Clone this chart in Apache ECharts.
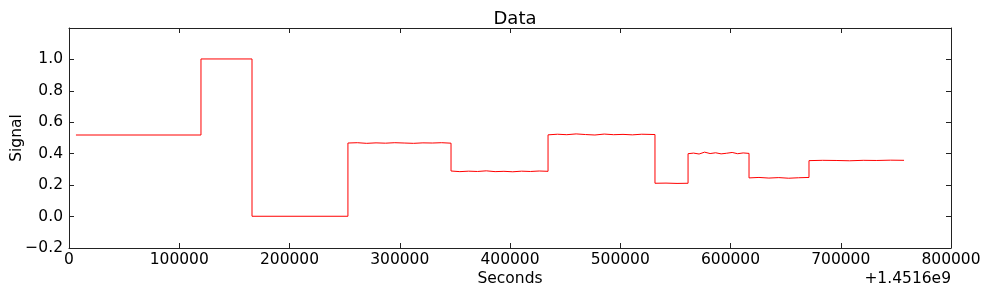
<!DOCTYPE html>
<html lang="en">
<head>
    <meta charset="UTF-8">
    <title>Data</title>
    <script src="https://cdn.jsdelivr.net/npm/echarts@6/dist/echarts.min.js"></script>
    <style>
        html, body { margin: 0; padding: 0; background: #fff; }
    </style>
</head>
<body>
<div id="chart" style="width:986px;height:289px;"></div>
<script type="text/javascript">

    // time offsets (s, relative to 1.4516e9) and signal readings, one row per level
    var seconds = [
        6300, 119700,
        119700, 166000,
        166000, 253000,
        253000, 261500, 270000, 278500, 287000, 295500, 304000, 312500, 321000, 329500, 338000, 346500,
        346500, 354500, 362500, 370500, 378500, 386500, 394500, 402500, 410500, 418500, 426500, 434500,
        434500, 443000, 451500, 460000, 468500, 477000, 485500, 494000, 502500, 511000, 519500, 531500,
        531500, 541500, 551500, 561500,
        561500, 566500, 571500, 576500, 581500, 586500, 591500, 596500, 601500, 606500, 611500, 616800,
        616800, 625800, 634800, 643800, 652800, 661800, 671200,
        671200, 683500, 695800, 708100, 720400, 732700, 745000, 757400
    ];
    var signal = [
        0.519, 0.519,
        1.003, 1.003,
        0.002, 0.002,
        0.468, 0.470, 0.466, 0.469, 0.467, 0.470, 0.468, 0.466, 0.469, 0.468, 0.470, 0.467,
        0.290, 0.286, 0.289, 0.287, 0.291, 0.286, 0.288, 0.285, 0.289, 0.287, 0.290, 0.288,
        0.520, 0.524, 0.521, 0.526, 0.522, 0.519, 0.525, 0.521, 0.523, 0.520, 0.524, 0.522,
        0.212, 0.213, 0.211, 0.212,
        0.400, 0.404, 0.398, 0.410, 0.401, 0.406, 0.399, 0.403, 0.408, 0.400, 0.405, 0.402,
        0.246, 0.249, 0.245, 0.248, 0.244, 0.247, 0.249,
        0.356, 0.358, 0.357, 0.355, 0.358, 0.357, 0.359, 0.358
    ];

    var xMin = 0, xMax = 800000, xStep = 100000;
    var yMin = -0.2, yMax = 1.2, yStep = 0.2;

    var points = [];
    for (var i = 0; i < seconds.length; i++) {
        points.push([seconds[i], signal[i]]);
    }

    var font = 'DejaVu Sans';
    var frame = { show: true, onZero: false, lineStyle: { color: '#222', width: 1 } };
    var ticks = { show: true, inside: true, length: 5, lineStyle: { color: '#222', width: 1 } };

    var myChart = echarts.init(document.getElementById('chart'), null, { renderer: 'canvas' });

    myChart.setOption({
        animation: false,
        backgroundColor: '#fff',
        title: {
            text: 'Data',
            left: 510,
            textAlign: 'center',
            top: 5,
            textStyle: { fontFamily: font, fontSize: 18, fontWeight: 'normal', color: '#000' }
        },
        grid: {
            left: 69, right: 35, top: 28, bottom: 41,
            containLabel: false, outerBoundsMode: 'none', show: false
        },
        xAxis: [
            {
                type: 'value', min: xMin, max: xMax, interval: xStep,
                position: 'bottom',
                name: 'Seconds', nameLocation: 'middle', nameGap: 23, nameMoveOverlap: false,
                nameTextStyle: { fontFamily: font, fontSize: 15.5, color: '#000' },
                axisLine: frame, axisTick: ticks, splitLine: { show: false },
                axisLabel: {
                    fontFamily: font, fontSize: 15.5, color: '#000', margin: 4,
                    showMinLabel: true, showMaxLabel: true, hideOverlap: false,
                    formatter: function (v) { return String(v); }
                }
            },
            {
                type: 'value', min: xMin, max: xMax, interval: xStep,
                position: 'top',
                axisLine: frame, axisTick: ticks, splitLine: { show: false },
                axisLabel: { show: false }
            }
        ],
        yAxis: [
            {
                type: 'value', min: yMin, max: yMax, interval: yStep,
                position: 'left',
                name: 'Signal', nameLocation: 'middle', nameGap: 44, nameRotate: 90,
                nameMoveOverlap: false,
                nameTextStyle: { fontFamily: font, fontSize: 15.5, color: '#000' },
                axisLine: frame, axisTick: ticks, splitLine: { show: false },
                axisLabel: {
                    fontFamily: font, fontSize: 15.5, color: '#000', margin: 6,
                    showMinLabel: true, showMaxLabel: true, hideOverlap: false,
                    formatter: function (v) {
                        if (Math.abs(v - yMax) < 1e-9) return '';
                        return v.toFixed(1).replace('-', '\u2212');
                    }
                }
            },
            {
                type: 'value', min: yMin, max: yMax, interval: yStep,
                position: 'right',
                axisLine: frame, axisTick: ticks, splitLine: { show: false },
                axisLabel: { show: false }
            }
        ],
        graphic: [
            {
                type: 'text',
                right: 35,
                top: 271,
                style: { text: '+1.4516e9', font: '15.5px "DejaVu Sans"', fill: '#000' }
            }
        ],
        series: [
            {
                type: 'line',
                xAxisIndex: 0, yAxisIndex: 0,
                data: points,
                showSymbol: false,
                symbol: 'none',
                lineStyle: { color: '#ff0000', width: 1 },
                silent: true
            }
        ]
    });
</script>
</body>
</html>
